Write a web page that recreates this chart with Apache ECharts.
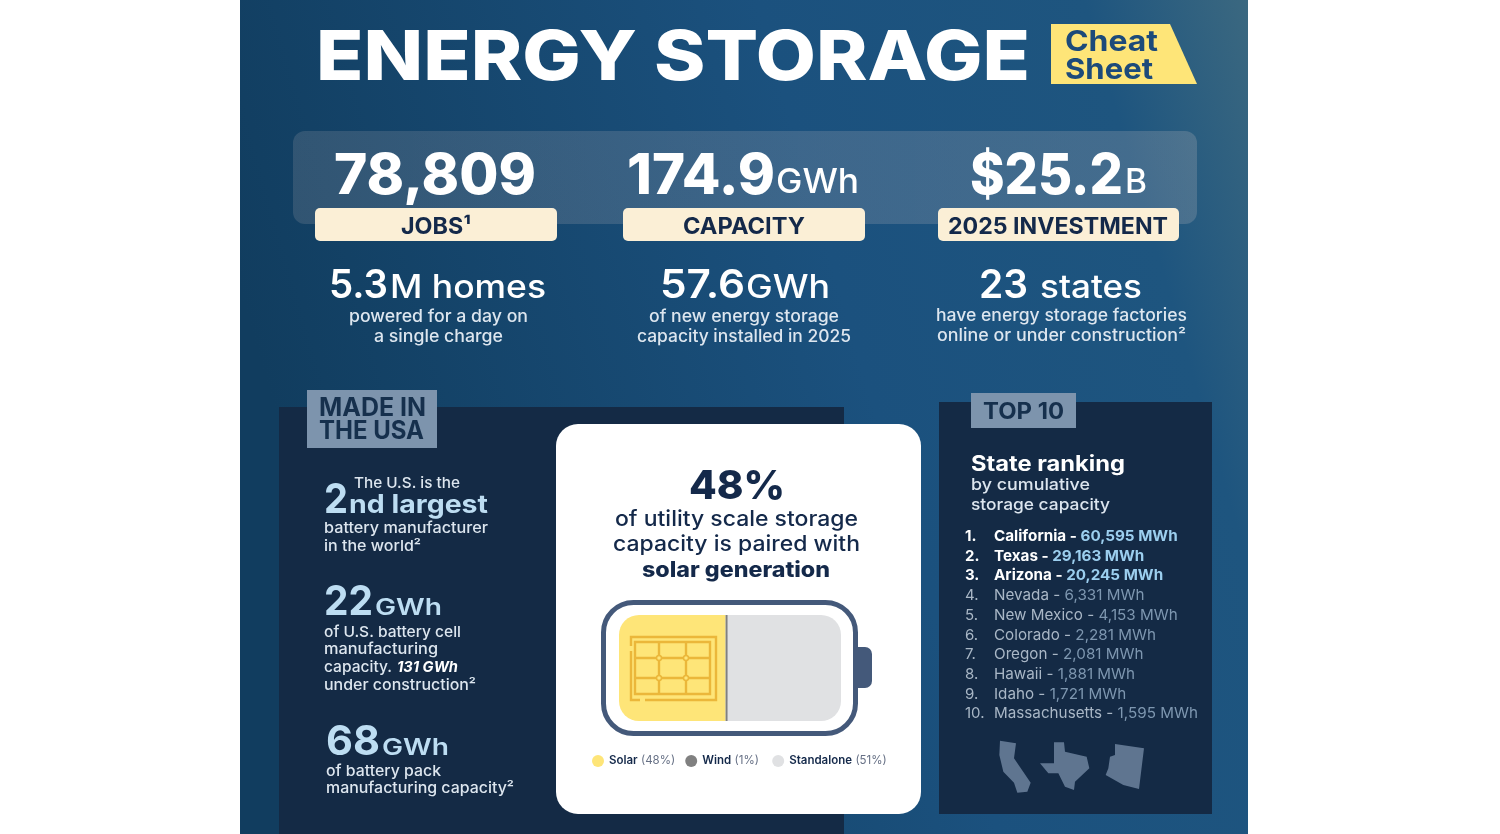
<!DOCTYPE html>
<html>
<head>
<meta charset="utf-8">
<title>Energy Storage Cheat Sheet</title>
<script src="https://cdn.jsdelivr.net/npm/echarts@6/dist/echarts.min.js"></script>
<style>
html, body { margin: 0; padding: 0; background: #fff; }
#container { width: 1500px; height: 834px; }
</style>
</head>
<body>
<div id="container"></div>
<script>
var mixNames = ['Solar', 'Wind', 'Standalone'];
var mixValues = [48, 1, 51];
var mixColors = ['#FEE578', '#808080', '#E0E1E3'];

var rankStates = ['California', 'Texas', 'Arizona', 'Nevada', 'New Mexico', 'Colorado', 'Oregon', 'Hawaii', 'Idaho', 'Massachusetts'];
var rankMWh = ['60,595', '29,163', '20,245', '6,331', '4,153', '2,281', '2,081', '1,881', '1,721', '1,595'];

var FONT = 'Inter';
var NAVY = '#14294A';
var TAGTEXT = '#16304D';
var ICE = '#BDDDF2';
var CREAM = '#FBEFD6';
var PALE = '#DDE6EF';
var ICON = '#EBB73A';

var dom = document.getElementById('container');
var myChart = echarts.init(dom, null, {renderer: 'canvas', width: 1500, height: 834});
var els = [];
var measure = document.createElement('canvas').getContext('2d');

function box(x, y, w, h, fill, r, z) {
    els.push({type: 'rect', z: z || 0, shape: {x: x, y: y, width: w, height: h, r: r || 0}, style: {fill: fill}});
}

// y is the middle of the capitals, width is what the text spans in the picture
function txt(x, y, text, size, weight, color, width, align, italic) {
    var slant = italic ? 'italic ' : '';
    measure.font = slant + weight + ' ' + size + 'px ' + FONT;
    els.push({
        type: 'text', z: 5, x: x, y: y + size * 0.058, scaleX: width / measure.measureText(text).width, scaleY: 1,
        style: {
            x: 0, y: 0, text: text, fill: color, fontFamily: FONT, fontSize: size, fontWeight: weight,
            fontStyle: italic ? 'italic' : 'normal', align: align || 'left', verticalAlign: 'middle'
        }
    });
}

function iconLine(pts) {
    els.push({type: 'polyline', z: 6, shape: {points: pts}, style: {stroke: ICON, lineWidth: 2.4, fill: null}});
}

// page background and panels
els.push({
    type: 'rect', z: 0, shape: {x: 240, y: 0, width: 1008, height: 834},
    style: {fill: new echarts.graphic.LinearGradient(0, 0.35, 1, 0, [
        {offset: 0, color: '#113D5F'},
        {offset: 0.55, color: '#1B517E'},
        {offset: 0.85, color: '#1E557F'},
        {offset: 1, color: '#3B6880'}
    ])}
});
els.push({
    type: 'rect', z: 1, shape: {x: 293, y: 131, width: 904, height: 93, r: 12},
    style: {fill: new echarts.graphic.LinearGradient(0, 0, 1, 0, [
        {offset: 0, color: 'rgba(255,225,215,0.13)'},
        {offset: 1, color: 'rgba(255,225,215,0.17)'}
    ])}
});
box(315, 208, 242, 33, CREAM, 5, 2);
box(623, 208, 242, 33, CREAM, 5, 2);
box(938, 208, 241, 33, CREAM, 5, 2);
box(279, 407, 565, 427, '#142A45', 0, 1);
box(939, 402, 273, 412, '#142A45', 0, 1);
box(307, 390, 130, 58, '#7D94AD', 0, 2);
box(971, 393, 105, 35, '#7D94AD', 0, 2);
box(556, 424, 365, 390, '#FFFFFF', 22, 2);

// title
txt(316, 55, 'ENERGY STORAGE', 69, 800, '#FFFFFF', 714);
els.push({type: 'polygon', z: 2, shape: {points: [[1051, 24], [1170, 24], [1197, 84], [1051, 84]]}, style: {fill: '#FEE578'}});
txt(1065, 41, 'Cheat', 29, 700, '#1C4A7A', 93);
txt(1065, 69, 'Sheet', 29, 700, '#1C4A7A', 88);

// headline stats
txt(334, 173.5, '78,809', 56, 800, '#FFFFFF', 202);
txt(627, 173.5, '174.9', 56, 800, '#FFFFFF', 148);
txt(776, 180.5, 'GWh', 34, 500, '#FFFFFF', 83);
txt(970, 173.5, '$25.2', 56, 800, '#FFFFFF', 153);
txt(1125, 180.5, 'B', 34, 500, '#FFFFFF', 22);
txt(436, 226, 'JOBS¹', 23, 700, NAVY, 70, 'center');
txt(744, 226, 'CAPACITY', 23, 700, NAVY, 122, 'center');
txt(1058, 226, '2025 INVESTMENT', 23, 700, NAVY, 220, 'center');

txt(329, 284.5, '5.3', 39, 600, '#FFFFFF', 59);
txt(390, 287, 'M homes', 32, 500, '#FFFFFF', 156);
txt(438.5, 316, 'powered for a day on', 17, 500, PALE, 179, 'center');
txt(438.5, 336, 'a single charge', 17, 500, PALE, 129, 'center');
txt(660, 284.5, '57.6', 39, 600, '#FFFFFF', 85);
txt(746, 287, 'GWh', 32, 500, '#FFFFFF', 84);
txt(744, 316, 'of new energy storage', 17, 500, PALE, 190, 'center');
txt(744, 336, 'capacity installed in 2025', 17, 500, PALE, 214, 'center');
txt(979, 284.5, '23', 39, 600, '#FFFFFF', 49);
txt(1040, 287, 'states', 32, 500, '#FFFFFF', 102);
txt(1061.5, 315, 'have energy storage factories', 17, 500, PALE, 251, 'center');
txt(1061.5, 335, 'online or under construction²', 17, 500, PALE, 249, 'center');

// made in the usa panel
txt(319, 407.5, 'MADE IN', 25, 700, TAGTEXT, 107);
txt(319, 430, 'THE USA', 25, 700, TAGTEXT, 105);
txt(354, 482.5, 'The U.S. is the', 15, 500, PALE, 106);
txt(324, 498, '2', 41, 700, ICE, 24);
txt(349, 504, 'nd largest', 25, 700, ICE, 139);
txt(324, 528, 'battery manufacturer', 15, 500, PALE, 164);
txt(324, 546, 'in the world²', 15, 500, PALE, 97);
txt(324, 600, '22', 41, 700, ICE, 49);
txt(375, 606.5, 'GWh', 23, 600, ICE, 67);
txt(324, 632, 'of U.S. battery cell', 15, 500, PALE, 137);
txt(324, 649, 'manufacturing', 15, 500, PALE, 114);
txt(324, 667, 'capacity.', 15, 500, PALE, 68);
txt(397, 667, '131 GWh', 15, 700, '#FFFFFF', 61, 'left', true);
txt(324, 685, 'under construction²', 15, 500, PALE, 152);
txt(326, 740, '68', 41, 700, ICE, 54);
txt(382, 746.5, 'GWh', 23, 600, ICE, 67);
txt(326, 771, 'of battery pack', 15, 500, PALE, 115);
txt(326, 788, 'manufacturing capacity²', 15, 500, PALE, 188);

// centre card
txt(737, 485, '48%', 40, 800, NAVY, 96, 'center');
txt(736.5, 518, 'of utility scale storage', 21, 500, NAVY, 243, 'center');
txt(736.5, 543, 'capacity is paired with', 21, 500, NAVY, 247, 'center');
txt(736, 569, 'solar generation', 21, 800, NAVY, 188, 'center');

// battery shell
els.push({type: 'rect', z: 3, shape: {x: 603.5, y: 602.5, width: 252, height: 131, r: 30}, style: {fill: null, stroke: '#44597A', lineWidth: 5}});
els.push({type: 'rect', z: 3, shape: {x: 857, y: 647, width: 15, height: 41, r: [0, 7, 7, 0]}, style: {fill: '#44597A'}});

// solar panel icon
iconLine([[631, 646], [631, 637], [716, 637], [716, 700], [645, 700]]);
iconLine([[631, 651], [631, 700], [640, 700]]);
els.push({type: 'rect', z: 6, shape: {x: 635, y: 642, width: 75, height: 52}, style: {fill: null, stroke: ICON, lineWidth: 2.4}});
iconLine([[659, 642], [659, 694]]);
iconLine([[686, 642], [686, 694]]);
iconLine([[635, 658], [710, 658]]);
iconLine([[635, 678], [710, 678]]);
[[659, 658], [686, 658], [659, 678], [686, 678]].forEach(function (p) {
    els.push({type: 'circle', z: 7, shape: {cx: p[0], cy: p[1], r: 2.5}, style: {fill: '#FEE578', stroke: ICON, lineWidth: 1.5}});
});

// top 10 panel
txt(1023.5, 411, 'TOP 10', 23, 700, TAGTEXT, 81, 'center');
txt(971, 463, 'State ranking', 21, 700, '#FFFFFF', 154);
txt(971, 484, 'by cumulative', 16.5, 500, PALE, 119);
txt(971, 504, 'storage capacity', 16.5, 500, PALE, 139);

rankStates.forEach(function (name, i) {
    var top3 = i < 3;
    var y = 535.5 + 19.72 * i;
    var w = top3 ? 700 : 400;
    els.push({
        type: 'text', z: 5, x: 965, y: y + 1,
        style: {x: 0, y: 0, text: (i + 1) + '.', fill: top3 ? '#FFFFFF' : '#A9B7C6', fontFamily: FONT, fontSize: 15, fontWeight: w, verticalAlign: 'middle'}
    });
    els.push({
        type: 'text', z: 5, x: 994, y: y + 1, scaleX: 1.015,
        style: {
            x: 0, y: 0, verticalAlign: 'middle',
            text: '{n|' + name + ' - }{v|' + rankMWh[i] + ' MWh}',
            rich: {
                n: {fontFamily: FONT, fontSize: 15, fontWeight: w, fill: top3 ? '#FFFFFF' : '#A9B7C6'},
                v: {fontFamily: FONT, fontSize: 15, fontWeight: w, fill: top3 ? '#9CCFEF' : '#7E97B0'}
            }
        }
    });
});

// state silhouettes
[
    [[180, 1052], [228, 1060], [222, 1105], [272, 1178], [262, 1205], [232, 1208], [222, 1178], [190, 1145], [178, 1095]],
    [[342, 1057], [372, 1057], [375, 1085], [440, 1100], [448, 1135], [405, 1175], [402, 1200], [375, 1190], [355, 1150], [325, 1150], [300, 1120], [342, 1120]],
    [[525, 1062], [612, 1075], [597, 1197], [550, 1185], [497, 1155], [505, 1135], [510, 1100], [525, 1095]]
].forEach(function (pts) {
    els.push({type: 'polygon', z: 3, x: 940, y: 390, scaleX: 1 / 3, scaleY: 1 / 3, shape: {points: pts}, style: {fill: '#5F7590'}});
});

var option = {
    animation: false,
    backgroundColor: '#fff',
    graphic: {elements: els},
    grid: {left: 619, top: 615, width: 222, height: 106, containLabel: false},
    xAxis: {type: 'value', min: 0, max: 100, show: false},
    yAxis: {type: 'category', data: ['Capacity'], show: false},
    legend: {
        left: 587, top: 750, orient: 'horizontal', icon: 'circle', itemWidth: 12, itemHeight: 12, itemGap: 10,
        selectedMode: false,
        data: mixNames,
        formatter: function (name) {
            // the Wind entry sits a little further from Standalone than Solar does from Wind
            var tail = name === 'Wind' ? '{g| }' : '';
            return '{n|' + name + '} {p|(' + mixValues[mixNames.indexOf(name)] + '%)}' + tail;
        },
        textStyle: {
            rich: {
                n: {fontFamily: FONT, fontSize: 11.5, fontWeight: 600, color: NAVY},
                p: {fontFamily: FONT, fontSize: 11.5, fontWeight: 400, color: '#667085'},
                g: {width: 5}
            }
        }
    },
    series: mixNames.map(function (name, i) {
        return {
            name: name,
            type: 'bar',
            stack: 'mix',
            barWidth: 106,
            silent: true,
            data: [mixValues[i]],
            itemStyle: {
                color: mixColors[i],
                borderRadius: i === 0 ? [20, 0, 0, 20] : (i === 2 ? [0, 20, 20, 0] : 0)
            }
        };
    })
};
myChart.setOption(option);
</script>
</body>
</html>
